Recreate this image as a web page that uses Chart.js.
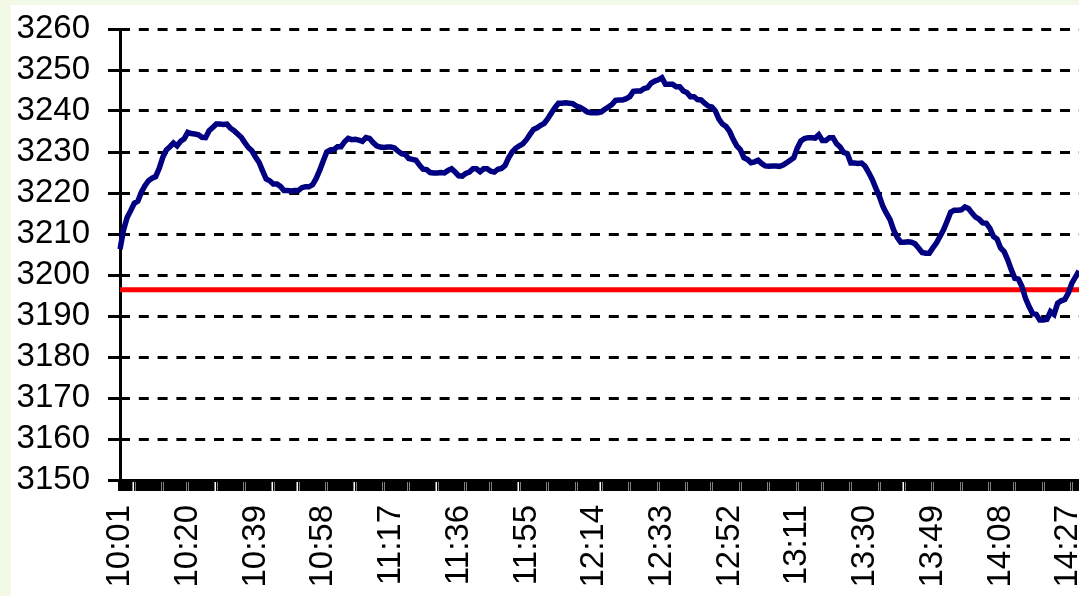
<!DOCTYPE html>
<html>
<head>
<meta charset="utf-8">
<script src="https://cdn.jsdelivr.net/npm/chart.js@4/dist/chart.umd.min.js"></script>
<style>
  html, body { margin: 0; padding: 0; background: #f2f9e6; width: 1079px; height: 596px; overflow: hidden; }
  #wrap { position: absolute; left: 11px; top: 5px; width: 1068px; height: 591px; background: #ffffff; }
  canvas { display: block; }
</style>
</head>
<body>
<div id="wrap"><canvas id="c" width="1068" height="591"></canvas></div>
<script>
// ---- data ----
const startTime = '10:01';
const minuteCount = 270; // 10:01 .. 14:30, one point per minute
const tickLabels = ['10:01','10:20','10:39','10:58','11:17','11:36','11:55','12:14','12:33','12:52','13:11','13:30','13:49','14:08','14:27'];
const indexValues = [
  3206.3, 3211.0, 3214.0, 3215.7, 3217.5, 3218.0, 3220.2, 3221.8, 3223.0, 3223.6,
  3224.0, 3226.0, 3228.7, 3230.5, 3231.3, 3232.2, 3231.5, 3232.6, 3233.2, 3234.8,
  3234.5, 3234.4, 3234.2, 3233.6, 3233.5, 3235.2, 3236.0, 3236.8, 3236.8, 3236.7,
  3236.8, 3235.8, 3235.2, 3234.4, 3233.6, 3232.3, 3231.1, 3230.3, 3228.8, 3227.5,
  3225.4, 3223.4, 3223.0, 3222.2, 3222.2, 3221.6, 3220.6, 3220.6, 3220.5, 3220.6,
  3220.6, 3221.3, 3221.5, 3221.5, 3222.0, 3223.5, 3225.5, 3227.8, 3230.0, 3230.5,
  3230.6, 3231.3, 3231.3, 3232.5, 3233.3, 3233.0, 3233.1, 3232.9, 3232.6, 3233.5,
  3233.3, 3232.3, 3231.5, 3231.2, 3231.1, 3231.2, 3231.2, 3231.0, 3230.2, 3229.6,
  3229.4, 3228.4, 3228.2, 3228.0, 3226.8, 3225.8, 3225.7, 3225.0, 3224.9, 3224.9,
  3225.0, 3224.9, 3225.5, 3225.9, 3225.1, 3224.2, 3224.1, 3224.8, 3225.1, 3225.9,
  3225.9, 3225.2, 3225.9, 3225.9, 3225.3, 3225.1, 3225.8, 3226.0, 3226.7, 3228.6,
  3230.0, 3230.9, 3231.5, 3232.0, 3233.0, 3234.3, 3235.5, 3235.9, 3236.5, 3237.0,
  3238.1, 3239.5, 3240.8, 3241.9, 3241.9, 3242.0, 3241.9, 3241.8, 3241.2, 3240.9,
  3240.4, 3239.8, 3239.6, 3239.6, 3239.6, 3239.8, 3240.4, 3241.0, 3241.6, 3242.6,
  3242.7, 3242.7, 3243.0, 3243.5, 3244.8, 3244.9, 3244.9, 3245.5, 3245.7, 3246.8,
  3247.3, 3247.6, 3248.1, 3246.5, 3246.5, 3246.5, 3245.9, 3245.9, 3244.9, 3244.5,
  3243.5, 3243.5, 3242.8, 3242.7, 3241.9, 3241.2, 3241.0, 3240.0, 3238.0, 3236.8,
  3236.2, 3235.0, 3233.1, 3231.5, 3230.6, 3228.6, 3228.2, 3227.4, 3227.6, 3228.0,
  3227.2, 3226.6, 3226.5, 3226.6, 3226.6, 3226.5, 3226.8, 3227.4, 3228.0, 3228.6,
  3231.0, 3232.7, 3233.3, 3233.5, 3233.5, 3233.4, 3234.2, 3232.8, 3232.8, 3233.5,
  3233.5, 3232.0, 3231.2, 3229.9, 3229.6, 3227.3, 3227.3, 3227.2, 3227.3, 3226.5,
  3225.0, 3223.3, 3221.2, 3219.2, 3216.7, 3215.0, 3213.5, 3211.0, 3209.2, 3208.0,
  3208.0, 3208.1, 3208.0, 3207.6, 3206.6, 3205.5, 3205.3, 3205.3, 3206.6, 3207.8,
  3209.4, 3211.0, 3213.1, 3215.3, 3215.8, 3215.8, 3215.9, 3216.6, 3216.2, 3215.1,
  3214.1, 3213.6, 3212.7, 3212.6, 3211.4, 3209.4, 3208.8, 3206.6, 3205.7, 3203.7,
  3201.3, 3199.2, 3199.0, 3197.2, 3194.3, 3192.3, 3190.6, 3190.4, 3189.0, 3189.0,
  3189.2, 3191.1, 3190.4, 3193.1, 3193.7, 3194.0, 3195.6, 3198.0, 3199.5, 3201.0
];
const referenceLevel = 3196.4;
const yMin = 3150, yMax = 3260, yStep = 10;

// categories: one per minute starting at startTime
const categories = [];
{
  const [h0, m0] = startTime.split(':').map(Number);
  for (let k = 0; k < minuteCount; k++) {
    const t = h0 * 60 + m0 + k;
    categories.push(Math.floor(t / 60) + ':' + String(t % 60).padStart(2, '0'));
  }
}
const referenceSeries = categories.map(() => referenceLevel);

const FONT = { family: "'Liberation Sans', Arial, sans-serif", size: 33, lineHeight: 1.0 };

// minute tick marks merge into a black band with small light gaps
const tickMarkWidth = (ctx) => {
  const k = (ctx.index - 4) / 7.73;
  return Math.abs(k - Math.round(k)) * 7.73 < 0.5 ? 1.5 : 4.5;
};

new Chart(document.getElementById('c'), {
  type: 'line',
  data: {
    labels: categories,
    datasets: [
      { data: indexValues, borderColor: '#000080', borderWidth: 5.5, pointRadius: 0, tension: 0, fill: false, borderJoinStyle: 'miter' },
      { data: referenceSeries, borderColor: '#ff0000', borderWidth: 5, pointRadius: 0, tension: 0, fill: false }
    ]
  },
  options: {
    responsive: false,
    animation: false,
    devicePixelRatio: 1,
    layout: { padding: { left: 0, top: 24, right: 0, bottom: 0 } },
    plugins: { legend: { display: false }, tooltip: { enabled: false } },
    scales: {
      x: {
        type: 'category',
        offset: false,
        afterFit: (s) => { s.paddingLeft = 0; s.paddingRight = 0; s.paddingTop = 0; s.paddingBottom = 0; s.height = 116; },
        border: { display: true, color: '#000', width: 3 },
        grid: { display: true, drawOnChartArea: false, drawTicks: true, tickLength: 11, color: '#000', lineWidth: tickMarkWidth, tickColor: '#000', tickWidth: tickMarkWidth },
        ticks: {
          autoSkip: false, maxRotation: 90, minRotation: 90, padding: 14, color: '#000', font: FONT,
          callback: function (v, i) { const l = categories[i]; return tickLabels.includes(l) ? l : ''; }
        }
      },
      y: {
        min: yMin, max: yMax,
        afterFit: (s) => { s.paddingLeft = 0; s.paddingRight = 0; s.paddingTop = 0; s.paddingBottom = 0; s.width = 109; },
        border: { display: true, color: '#000', width: 3, dash: [10, 8.8], dashOffset: 2 },
        grid: { color: '#000', lineWidth: 3, tickLength: 12, tickColor: '#000', tickWidth: 3, tickBorderDash: [] },
        ticks: { stepSize: yStep, autoSkip: false, maxTicksLimit: 20, padding: 18, color: '#000', font: FONT, callback: (v) => String(v) }
      }
    }
  }
});
</script>
</body>
</html>
